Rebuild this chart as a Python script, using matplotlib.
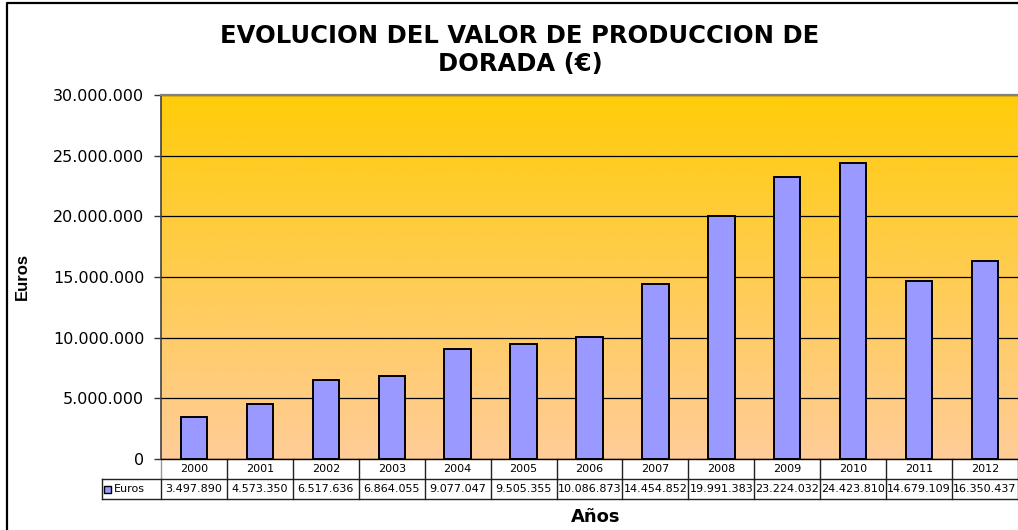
import numpy as np
import matplotlib
matplotlib.use("Agg")
import matplotlib.pyplot as plt
from matplotlib.lines import Line2D
from matplotlib.patches import Rectangle
from matplotlib.transforms import blended_transform_factory

years = ["2000", "2001", "2002", "2003", "2004", "2005", "2006",
         "2007", "2008", "2009", "2010", "2011", "2012"]
euros = [3497890, 4573350, 6517636, 6864055, 9077047, 9505355, 10086873,
         14454852, 19991383, 23224032, 24423810, 14679109, 16350437]
yticks = [0, 5000000, 10000000, 15000000, 20000000, 25000000, 30000000]
series_name = "Euros"
title = "EVOLUCION DEL VALOR DE PRODUCCION DE\nDORADA (€)"
xlabel = "Años"
ylabel = "Euros"


def fmt(v):
    return f"{v:,}".replace(",", ".")


W, H = 1018, 530
fig = plt.figure(figsize=(W / 100, H / 100), dpi=100)
fig.patch.set_facecolor("white")

# axes in pixel geometry
ax_l, ax_r, ax_t, ax_b = 161, 1018, 95, 459
ax = fig.add_axes([ax_l / W, (H - ax_b) / H, (ax_r - ax_l) / W, (ax_b - ax_t) / H])

n = len(years)
x = np.arange(n)

# gradient background (gold at top, peach at bottom)
grad = np.linspace(0, 1, 256).reshape(-1, 1)
top = np.array([1.0, 0.80, 0.04])
bot = np.array([1.0, 0.80, 0.60])
img = top[None, None, :] * (1 - grad[:, :, None]) + bot[None, None, :] * grad[:, :, None]
ax.imshow(img, extent=[-0.5, n - 0.5, 0, 30000000], origin="upper",
          aspect="auto", zorder=0)
ax.set_xlim(-0.5, n - 0.5)
ax.set_ylim(0, 30000000)

ax.yaxis.grid(True, color="black", linewidth=0.9, zorder=1)
ax.set_axisbelow(True)
ax.bar(x, euros, width=0.4, color="#9999FF", edgecolor="black", linewidth=1.4, zorder=3)

ax.set_yticks(yticks)
ax.set_yticklabels([fmt(v) for v in yticks], fontsize=11.5, family="DejaVu Sans")
ax.tick_params(axis="y", length=5, width=1, color="#333333", pad=7)
ax.set_xticks([])
ax.spines["right"].set_visible(False)
ax.spines["top"].set_color("#808080")
ax.spines["top"].set_linewidth(1.6)
ax.spines["left"].set_color("#404040")
ax.spines["left"].set_linewidth(1.2)
ax.spines["bottom"].set_color("black")
ax.spines["bottom"].set_linewidth(1.0)

# data table
tr = blended_transform_factory(ax.transData, ax.transAxes)
rh = 20 / (ax_b - ax_t)
leg_l = (102 - ax_l) / (ax_r - ax_l)
lc = "#222222"
for i, (yr, v) in enumerate(zip(years, euros)):
    ax.text(i, -0.5 * rh, yr, transform=tr, ha="center", va="center",
            fontsize=8, family="DejaVu Sans", clip_on=False)
    ax.text(i, -1.5 * rh, fmt(v), transform=tr, ha="center", va="center",
            fontsize=8, family="DejaVu Sans", clip_on=False)
for i in range(n + 1):
    col = "#999999" if i == 0 else lc
    ax.add_line(Line2D([i - 0.5, i - 0.5], [0, -rh], transform=tr, color=col,
                       lw=1.0, clip_on=False))
    ax.add_line(Line2D([i - 0.5, i - 0.5], [-rh, -2 * rh], transform=tr, color=lc,
                       lw=1.0, clip_on=False))
ax.add_line(Line2D([leg_l, 1], [-rh, -rh], transform=ax.transAxes, color=lc,
                   lw=1.0, clip_on=False))
ax.add_line(Line2D([leg_l, 1], [-2 * rh, -2 * rh], transform=ax.transAxes, color=lc,
                   lw=1.0, clip_on=False))
ax.add_line(Line2D([leg_l, leg_l], [-rh, -2 * rh], transform=ax.transAxes, color=lc,
                   lw=1.0, clip_on=False))
# legend key
kx = (104 - ax_l) / (ax_r - ax_l)
kw = 7 / (ax_r - ax_l)
kh = 7 / (ax_b - ax_t)
ax.add_patch(Rectangle((kx, -1.5 * rh - kh / 2), kw, kh, transform=ax.transAxes,
                       facecolor="#9999FF", edgecolor="black", lw=1.0, clip_on=False))
ax.text((114 - ax_l) / (ax_r - ax_l), -1.5 * rh, series_name, transform=ax.transAxes,
        ha="left", va="center", fontsize=8, family="DejaVu Sans", clip_on=False)

# labels
fig.text(520 / W, 1 - 50 / H, title, ha="center", va="center", fontsize=17.5,
         fontweight="bold", family="DejaVu Sans", linespacing=1.2)
fig.text(596 / W, 1 - 517 / H, xlabel, ha="center", va="center", fontsize=13,
         fontweight="bold", family="DejaVu Sans")
fig.text(22 / W, 1 - 277 / H, ylabel, ha="center", va="center", fontsize=12,
         fontweight="bold", family="Liberation Sans", rotation=90)

# chart border
fig.add_artist(Line2D([7 / W, 7 / W, 1.01], [-0.01, 1 - 3 / H, 1 - 3 / H],
                      transform=fig.transFigure, color="black", lw=1.6))

fig.savefig("out.png", dpi=100)
